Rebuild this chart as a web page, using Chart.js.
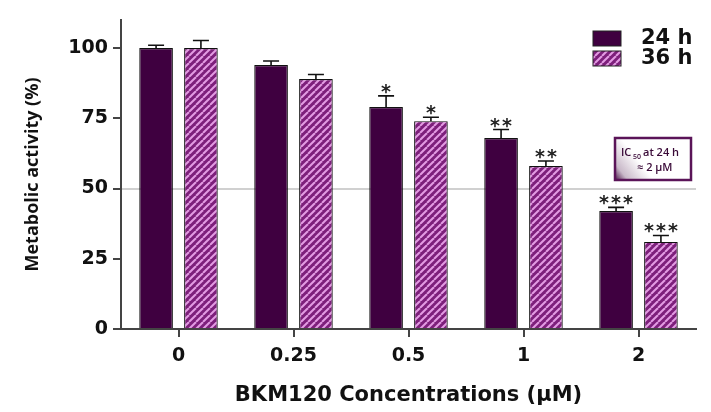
<!DOCTYPE html>
<html><head><meta charset="utf-8">
<script src="https://cdn.jsdelivr.net/npm/chart.js@4.4.1/dist/chart.umd.min.js"></script>
<style>html,body{margin:0;padding:0;background:#fff;}#wrap{width:711px;height:412px;}</style>
</head><body><div id="wrap"><canvas id="c" width="711" height="412"></canvas></div>
<script>
const categories = ["0", "0.25", "0.5", "1", "2"];
const seriesNames = ["24 h", "36 h"];
const values24 = [100, 94, 79, 68, 42];
const values36 = [100, 89, 74, 58, 31];
const errors24 = [1, 1.4, 4, 3, 1.3];
const errors36 = [2.7, 1.6, 1.4, 1.8, 2.3];
const stars24 = ["", "", "*", "**", "***"];
const stars36 = ["", "", "*", "**", "***"];
const yTicks = [0, 25, 50, 75, 100];

const DARK = '#3f0040';
function makeHatch() {
  const s = 7;
  const p = document.createElement('canvas');
  p.width = s; p.height = s;
  const g = p.getContext('2d');
  g.fillStyle = '#7d1f7b';
  g.fillRect(0, 0, s, s);
  g.strokeStyle = '#e39be3';
  g.lineWidth = 2.0;
  for (let k = -1; k <= 1; k++) {
    g.beginPath();
    g.moveTo(k * s, s);
    g.lineTo(k * s + s, 0);
    g.stroke();
  }
  return g.createPattern(p, 'repeat');
}
const ctx0 = document.getElementById('c').getContext('2d');
const hatch = makeHatch();

const extras = {
  id: 'extras',
  afterDatasetsDraw(chart) {
    const ctx = chart.ctx;
    const y = chart.scales.y;
    const errs = [errors24, errors36];
    const stars = [stars24, stars36];
    chart.data.datasets.forEach((ds, di) => {
      const meta = chart.getDatasetMeta(di);
      meta.data.forEach((bar, i) => {
        const top = y.getPixelForValue(ds.data[i]);
        const capY = y.getPixelForValue(ds.data[i] + errs[di][i]);
        ctx.save();
        ctx.strokeStyle = '#111';
        ctx.lineWidth = 1.6;
        ctx.beginPath();
        ctx.moveTo(bar.x, top);
        ctx.lineTo(bar.x, capY);
        ctx.moveTo(bar.x - 8, capY);
        ctx.lineTo(bar.x + 8, capY);
        ctx.stroke();
        const st = stars[di][i];
        if (st) {
          ctx.fillStyle = '#222';
          ctx.font = 'bold 19px "DejaVu Sans"';
          ctx.textAlign = 'center';
          ctx.textBaseline = 'alphabetic';
          const n = st.length, gap = 12;
          for (let k = 0; k < n; k++) {
            ctx.fillText('*', bar.x + (k - (n - 1) / 2) * gap, capY + 2);
          }
        }
        ctx.restore();
      });
    });
    // legend
    const fills = [DARK, hatch];
    ctx.save();
    seriesNames.forEach((name, k) => {
      const ly = 31 + k * 20;
      ctx.fillStyle = fills[k];
      ctx.fillRect(593, ly, 28, 15);
      ctx.strokeStyle = '#222';
      ctx.lineWidth = 1;
      ctx.strokeRect(593, ly, 28, 15);
      ctx.fillStyle = '#111';
      ctx.font = 'bold 21px "DejaVu Sans"';
      ctx.textBaseline = 'middle';
      ctx.textAlign = 'left';
      ctx.fillText(name, 641, ly + 8);
    });
    // IC50 box
    const bx = 615, by = 138, bw = 76, bh = 42;
    const grd = ctx.createLinearGradient(bx + bw * 0.7, by, bx, by + bh);
    grd.addColorStop(0, '#ffffff');
    grd.addColorStop(0.55, '#ffffff');
    grd.addColorStop(0.85, '#c9b9c9');
    grd.addColorStop(1, '#4a1648');
    ctx.fillStyle = grd;
    ctx.fillRect(bx, by, bw, bh);
    ctx.strokeStyle = '#5a1458';
    ctx.lineWidth = 2.5;
    ctx.strokeRect(bx, by, bw, bh);
    ctx.fillStyle = '#3a0a38';
    ctx.font = '600 11px "Open Sans"';
    ctx.textBaseline = 'alphabetic';
    ctx.textAlign = 'left';
    ctx.fillText('IC', bx + 6, by + 18);
    ctx.font = '600 7px "Open Sans"';
    ctx.fillText('50', bx + 18, by + 21);
    ctx.font = '600 11px "Open Sans"';
    ctx.fillText('at 24 h', bx + 28, by + 18);
    ctx.fillText('\u2248 2 \u00b5M', bx + 22, by + 33);
    ctx.restore();
  }
};

new Chart(ctx0, {
  type: 'bar',
  data: {
    labels: categories,
    datasets: [
      { label: seriesNames[0], data: values24, backgroundColor: DARK, borderColor: '#111', borderWidth: 1.2,
        categoryPercentage: 0.78, barPercentage: 0.75 },
      { label: seriesNames[1], data: values36, backgroundColor: hatch, borderColor: '#111', borderWidth: 1.2,
        categoryPercentage: 0.78, barPercentage: 0.75 }
    ]
  },
  options: {
    responsive: false,
    animation: false,
    layout: { padding: { top: 20, right: 15, left: 0, bottom: 0 } },
    plugins: { legend: { display: false }, tooltip: { enabled: false } },
    scales: {
      x: {
        afterFit(s) { s.height = 83; },
        border: { display: true, color: '#444', width: 2 },
        grid: { offset: false, drawOnChartArea: false, drawTicks: true, tickLength: 8, tickColor: '#444', lineWidth: 2 },
        ticks: { color: '#111', font: { family: 'DejaVu Sans', size: 19, weight: 'bold' }, padding: 8 },
        title: { display: true, text: 'BKM120 Concentrations (\u00b5M)', color: '#111',
                 font: { family: 'DejaVu Sans', size: 21, weight: 'bold' }, padding: { top: 8 } }
      },
      y: {
        min: 0, max: 110,
        afterFit(s) { s.width = 121; },
        afterBuildTicks(s) { s.ticks = yTicks.map(v => ({ value: v })); },
        border: { display: true, color: '#444', width: 2 },
        grid: { drawTicks: true, tickLength: 8, tickColor: '#444', lineWidth: 2,
                color: c => (c.tick && c.tick.value === 50) ? '#d0d0d0' : 'rgba(0,0,0,0)' },
        ticks: { color: '#111', font: { family: 'DejaVu Sans', size: 19, weight: 'bold' }, padding: 5 },
        title: { display: true, text: 'Metabolic activity (%)', color: '#111',
                 font: { family: 'Open Sans', size: 18, weight: 'bold' }, padding: { top: 22, bottom: 0 } }
      }
    }
  },
  plugins: [extras]
});
</script></body></html>
